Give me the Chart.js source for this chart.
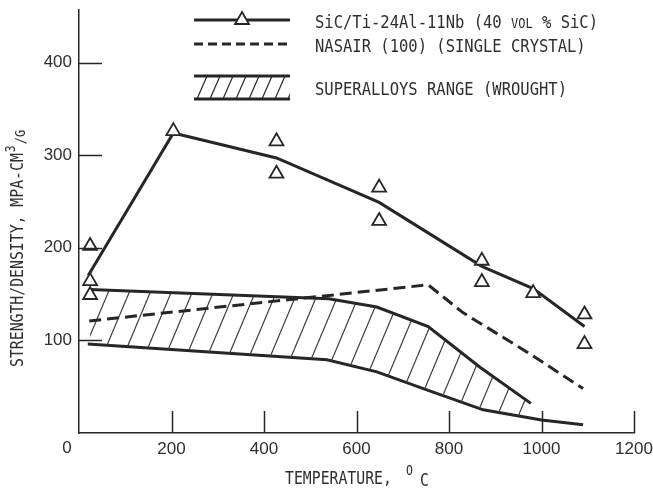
<!DOCTYPE html>
<html>
<head>
<meta charset="utf-8">
<script src="https://cdn.jsdelivr.net/npm/chart.js@4/dist/chart.umd.min.js"></script>
<style>
  html, body { margin: 0; padding: 0; background: #fff; }
  canvas { display: block; }
</style>
</head>
<body>
<canvas id="chart" width="653" height="495"></canvas>
<script>
const sicTemp = [24, 24, 24, 204, 427, 427, 649, 649, 871, 871, 982, 1093, 1093];
const sicPoints = [202, 164, 149, 326, 315, 280, 265, 229, 186, 163, 151, 128, 96];
const sicFitTemp = [20, 204, 427, 649, 871, 982, 1093];
const sicFit = [170, 324, 297, 249, 180, 156, 115];
const nasairTemp = [22, 755, 830, 970, 1090];
const nasair = [121, 160, 130, 87, 48];
const superTopTemp = [24, 540, 644, 755, 867, 977];
const superTop = [155, 145, 136, 115, 71, 32];
const superLowTemp = [19, 536, 644, 755, 874, 1000, 1090];
const superLow = [96, 79, 66, 46, 25, 14, 9];
const tempTicks = [200, 400, 600, 800, 1000, 1200];
const strengthTicks = [100, 200, 300, 400];

const ink = '#262626';
const mono = '"DejaVu Sans Mono", monospace';

function pts(xs, ys) {
  return xs.map((x, i) => ({ x: x, y: ys[i] }));
}

function hatchPattern() {
  const c = document.createElement('canvas');
  c.width = 21;
  c.height = 50;
  const g = c.getContext('2d');
  g.strokeStyle = '#3a3a3a';
  g.lineWidth = 1.2;
  [-21, 0, 21].forEach(dx => {
    g.beginPath();
    g.moveTo(dx - 21, 100);
    g.lineTo(dx + 42, -50);
    g.stroke();
  });
  return g.createPattern(c, 'repeat');
}

function label(ctx, s, x, y, size, align) {
  ctx.save();
  ctx.translate(x, y);
  ctx.scale(1, 1.15);
  ctx.font = size + 'px ' + mono;
  ctx.textAlign = align || 'left';
  ctx.textBaseline = 'middle';
  ctx.fillText(s, 0, 0);
  const w = ctx.measureText(s).width;
  ctx.restore();
  return w;
}

const decor = {
  id: 'decor',
  beforeDraw(chart) {
    const ctx = chart.ctx;
    ctx.save();
    ctx.fillStyle = '#fff';
    ctx.fillRect(0, 0, chart.width, chart.height);
    ctx.restore();
  },
  afterDraw(chart) {
    const ctx = chart.ctx;
    const xs = chart.scales.x, ys = chart.scales.y;
    const a = chart.chartArea;
    ctx.save();
    ctx.strokeStyle = ink;
    ctx.fillStyle = '#2e2e2e';
    ctx.lineWidth = 1.5;

    // inward tick marks
    tempTicks.forEach(v => {
      const px = Math.round(xs.getPixelForValue(v)) + 0.5;
      ctx.beginPath();
      ctx.moveTo(px, a.bottom);
      ctx.lineTo(px, a.bottom - 22);
      ctx.stroke();
    });
    strengthTicks.forEach(v => {
      const py = Math.round(ys.getPixelForValue(v)) + 0.5;
      ctx.beginPath();
      ctx.moveTo(a.left, py);
      ctx.lineTo(a.left + 23, py);
      ctx.stroke();
    });

    ctx.font = '17px "Liberation Sans", sans-serif';
    ctx.textAlign = 'center';
    ctx.textBaseline = 'middle';
    ctx.fillText('0', a.left - 12, a.bottom + 15);

    // x title
    let w = label(ctx, 'TEMPERATURE,', 285, 480, 14.8);
    label(ctx, 'O', 285 + w + 14, 472, 11.5);
    label(ctx, 'C', 285 + w + 28, 482, 14.8);

    // y title
    ctx.save();
    ctx.translate(19, 367);
    ctx.rotate(-Math.PI / 2);
    w = label(ctx, 'STRENGTH/DENSITY, MPA-CM', 0, 0, 14.8);
    label(ctx, '3', w + 1, -7, 11.5);
    label(ctx, '/G', w + 9, 2, 12);
    ctx.restore();

    // legend
    const lx0 = 194, lx1 = 290, tx = 315;
    ctx.lineWidth = 3;
    ctx.beginPath();
    ctx.moveTo(lx0, 20);
    ctx.lineTo(lx1, 20);
    ctx.stroke();
    ctx.lineWidth = 1.8;
    ctx.beginPath();
    ctx.moveTo(242, 12);
    ctx.lineTo(249, 24);
    ctx.lineTo(235, 24);
    ctx.closePath();
    ctx.fillStyle = '#fff';
    ctx.fill();
    ctx.stroke();
    ctx.fillStyle = '#2e2e2e';
    w = label(ctx, 'SiC/Ti-24Al-11Nb (40 ', tx, 23, 15.5);
    const w2 = label(ctx, 'VOL', tx + w, 24, 12);
    label(ctx, ' % SiC)', tx + w + w2, 23, 15.5);

    ctx.lineWidth = 3;
    ctx.setLineDash([9, 5]);
    ctx.beginPath();
    ctx.moveTo(lx0, 44);
    ctx.lineTo(lx1, 44);
    ctx.stroke();
    ctx.setLineDash([]);
    label(ctx, 'NASAIR (100) (SINGLE CRYSTAL)', tx, 47, 15.5);

    ctx.beginPath();
    ctx.moveTo(lx0, 76);
    ctx.lineTo(lx1, 76);
    ctx.moveTo(lx0, 99);
    ctx.lineTo(lx1, 99);
    ctx.stroke();
    ctx.lineWidth = 1.2;
    ctx.save();
    ctx.beginPath();
    ctx.rect(lx0, 77, lx1 - lx0, 21);
    ctx.clip();
    for (let x = lx0 - 10; x < lx1 + 12; x += 13) {
      ctx.beginPath();
      ctx.moveTo(x, 99);
      ctx.lineTo(x + 10, 76);
      ctx.stroke();
    }
    ctx.restore();
    label(ctx, 'SUPERALLOYS RANGE (WROUGHT)', tx, 90, 15.5);

    ctx.restore();
  }
};

const lineStyle = {
  borderColor: ink,
  borderWidth: 3,
  pointRadius: 0,
  tension: 0,
  fill: false
};

new Chart(document.getElementById('chart').getContext('2d'), {
  type: 'line',
  data: {
    datasets: [
      {
        label: 'SiC/Ti-24Al-11Nb data',
        data: pts(sicTemp, sicPoints),
        showLine: false,
        pointStyle: 'triangle',
        pointRadius: 8,
        pointBorderWidth: 1.8,
        pointBackgroundColor: '#fff',
        pointBorderColor: ink
      },
      Object.assign({ label: 'SiC/Ti-24Al-11Nb (40 vol % SiC)', data: pts(sicFitTemp, sicFit) }, lineStyle),
      Object.assign({ label: 'NASAIR (100)', data: pts(nasairTemp, nasair), borderDash: [12, 6] }, lineStyle),
      Object.assign({ label: 'Superalloys upper', data: pts(superTopTemp, superTop) }, lineStyle, {
        fill: '+1',
        backgroundColor: hatchPattern()
      }),
      Object.assign({ label: 'Superalloys lower', data: pts(superLowTemp, superLow) }, lineStyle)
    ]
  },
  options: {
    responsive: false,
    animation: false,
    layout: { padding: { top: 9, right: 19, left: 0, bottom: 0 } },
    plugins: {
      legend: { display: false },
      tooltip: { enabled: false }
    },
    scales: {
      x: {
        type: 'linear',
        min: 0,
        max: 1200,
        afterBuildTicks: scale => { scale.ticks = tempTicks.map(v => ({ value: v })); },
        afterFit: scale => {
          scale.height = 62;
          scale.paddingLeft = 0;
          scale.paddingRight = 0;
        },
        grid: { display: false, drawTicks: false },
        border: { display: true, color: ink, width: 1.5 },
        ticks: {
          color: '#2e2e2e',
          padding: 6,
          maxRotation: 0,
          callback: v => String(v),
          font: { family: 'Liberation Sans', size: 17 }
        }
      },
      y: {
        min: 0,
        max: 457,
        afterBuildTicks: scale => { scale.ticks = strengthTicks.map(v => ({ value: v })); },
        afterFit: scale => {
          scale.width = 79;
          scale.paddingTop = 0;
          scale.paddingBottom = 0;
        },
        grid: { display: false, drawTicks: false },
        border: { display: true, color: ink, width: 1.5 },
        ticks: {
          color: '#2e2e2e',
          padding: 7,
          callback: v => String(v),
          font: { family: 'Liberation Sans', size: 17 }
        }
      }
    }
  },
  plugins: [decor]
});
</script>
</body>
</html>
